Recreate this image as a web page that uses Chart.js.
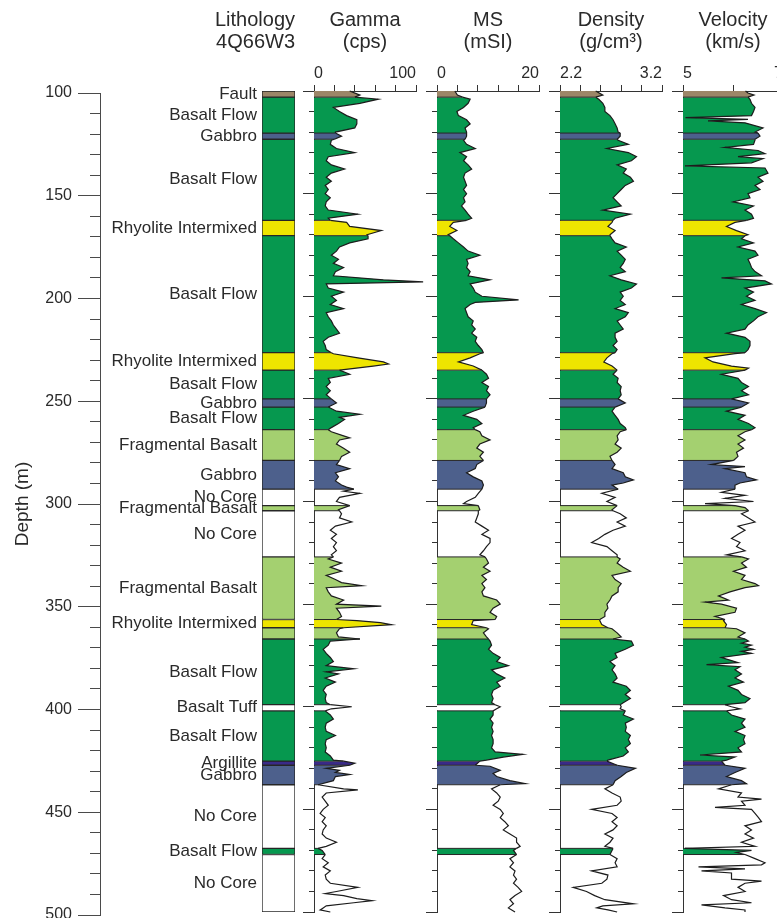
<!DOCTYPE html>
<html>
<head>
<meta charset="utf-8">
<title>4Q66W3 core log</title>
<script src="https://cdn.jsdelivr.net/npm/chart.js"></script>
<style>
  html, body { margin: 0; padding: 0; background: #fff; overflow: hidden; }
  #wrap { position: relative; width: 777px; height: 918px; overflow: hidden; background: #fff; }
  #wrap canvas { position: absolute; top: 0; }
</style>
</head>
<body>
<div id="wrap"></div>
<script>
// ---- lithology units (depth in m) ----
const unitTop  = [100, 103, 120.5, 123.5, 163, 170.5, 227.5, 236, 250, 254, 265, 280, 294, 302, 304.5, 327, 357.5, 361.5, 367, 399, 402, 426.5, 428.5, 438, 469, 472];
const unitBase = [103, 120.5, 123.5, 163, 170.5, 227.5, 236, 250, 254, 265, 280, 294, 302, 304.5, 327, 357.5, 361.5, 367, 399, 402, 426.5, 428.5, 438, 469, 472, 500];
const unitRock = ['Fault', 'Basalt Flow', 'Gabbro', 'Basalt Flow', 'Rhyolite Intermixed', 'Basalt Flow',
  'Rhyolite Intermixed', 'Basalt Flow', 'Gabbro', 'Basalt Flow', 'Fragmental Basalt', 'Gabbro', 'No Core',
  'Fragmental Basalt', 'No Core', 'Fragmental Basalt', 'Rhyolite Intermixed', 'Fragmental Basalt',
  'Basalt Flow', 'Basalt Tuff', 'Basalt Flow', 'Argillite', 'Gabbro', 'No Core', 'Basalt Flow', 'No Core'];
const unitLabel = ['Fault', 'Basalt Flow', 'Gabbro', 'Basalt Flow', 'Rhyolite Intermixed', 'Basalt Flow',
  'Rhyolite Intermixed', 'Basalt Flow', 'Gabbro', 'Basalt Flow', 'Fragmental Basalt', 'Gabbro', 'No Core',
  'Fragmental Basalt', 'No Core', 'Fragmental Basalt', 'Rhyolite Intermixed', '',
  'Basalt Flow', 'Basalt Tuff', 'Basalt Flow', 'Argillite', 'Gabbro', 'No Core', 'Basalt Flow', 'No Core'];

const rockColor = {
  'Fault': '#9c8668',
  'Basalt Flow': '#06984f',
  'Gabbro': '#4d608c',
  'Rhyolite Intermixed': '#eee500',
  'Fragmental Basalt': '#a4d070',
  'Argillite': '#3a2a88',
  'Basalt Tuff': '#ffffff',
  'No Core': '#ffffff'
};

// ---- downhole logs: [depth m, value] ----
const gammaLog = [[100,35],[102,45],[103,40],[104,63],[106,45],[108,19],[110,25],[112,32],[114,42],[116,42],[118,40],[120,21],[120.5,21],[122,27],[123.5,20],[124,17],[126,16],[128,22],[130,40],[132,14],[134,12],[136,17],[138,30],[140,17],[142,12],[144,17],[146,11],[148,14],[150,11],[152,16],[154,12],[156,11],[158,14],[160,43],[162,14],[163,16],[164,32],[166,35],[168,66],[170,52],[170.5,53],[172,53],[174,35],[176,25],[178,22],[180,17],[182,24],[184,19],[186,29],[188,21],[190,19],[192,68],[193,107],[194,12],[196,14],[198,29],[200,17],[202,22],[204,16],[206,29],[208,12],[210,14],[212,17],[214,19],[216,22],[218,25],[220,14],[222,9],[224,11],[226,12],[227.5,17],[228,19],[230,43],[232,68],[233,73],[234,58],[236,25],[238,35],[240,14],[242,16],[244,12],[246,16],[248,12],[250,17],[252,22],[254,14],[256,22],[257.5,45],[259,25],[260,30],[262,24],[264,17],[265,14],[266,17],[268,29],[269,35],[270,25],[272,22],[274,29],[276,35],[278,27],[280,25],[282,22],[284,35],[286,21],[288,24],[290,21],[292,27],[293,32],[294,39],[295,29],[296,45],[298,25],[300,22],[302,35],[304,24],[304.5,25],[306,27],[308,25],[310,37],[312,21],[314,16],[316,22],[318,17],[320,22],[322,19],[324,22],[326,17],[327,19],[328,14],[330,27],[332,16],[334,27],[336,12],[338,21],[339.5,27],[341,47],[342,12],[344,14],[346,17],[348,29],[350,22],[351,66],[352,22],[354,25],[356,27],[357.5,22],[358,42],[359,65],[360,76],[361.5,29],[362,25],[364,22],[366,24],[367,45],[368,16],[370,14],[372,9],[374,12],[376,16],[378,19],[380,12],[381.5,39],[383,12],[384,24],[386,11],[388,21],[390,12],[392,9],[394,12],[396,11],[398,12],[399,16],[400,37],[401,17],[402,11],[404,16],[406,19],[408,12],[410,11],[412,12],[414,21],[416,12],[418,11],[420,12],[422,11],[424,16],[426,19],[426.5,29],[427.5,40],[428.5,35],[430,12],[431,25],[432,21],[433,35],[434,21],[436,19],[438,4],[440,29],[440.5,43],[442,12],[444,8],[446,11],[448,14],[450,9],[452,6],[454,11],[456,8],[458,12],[460,9],[462,8],[464,12],[466,22],[468,12],[469,4],[470,8],[472,11],[474,8],[476,14],[478,9],[480,16],[482,11],[484,12],[486,16],[488,43],[490,22],[491,11],[492,29],[493.5,42],[494.5,57],[495.5,39],[497,12],[498,9],[499,6],[500,16]];

const msLog = [[100,3.5],[102,4],[103,5],[104,6.5],[106,6.1],[108,5.2],[110,3.9],[112,4.2],[114,5.8],[116,6.5],[118,5.5],[120,5.8],[120.5,5.8],[122,5.8],[123.5,5.5],[124,5.2],[126,5.8],[128,7.5],[130,4.5],[132,5.8],[134,5.2],[136,6.1],[138,6.8],[140,5.5],[142,5.2],[144,5.5],[146,5.8],[148,5.2],[150,5.8],[152,5.2],[154,5.5],[156,4.8],[158,5.5],[160,6.1],[162,6.8],[163,5.8],[164,3.2],[166,2.5],[168,3.9],[170,2.2],[170.5,2.5],[172,3.2],[174,4.2],[176,5.2],[178,6.1],[180,8.4],[182,5.8],[184,6.1],[186,5.8],[188,6.5],[190,6.1],[192,10.4],[193,8.4],[194,6.5],[196,7.1],[198,7.5],[200,8.8],[201.8,16],[203,7.5],[204,6.5],[206,5.5],[208,5.8],[210,6.1],[212,7.1],[214,6.8],[216,7.5],[218,6.8],[220,7.8],[222,7.5],[224,8.1],[226,8.8],[227.5,9.1],[228,8.4],[230,6.5],[232,4.2],[234,7.1],[236,8.8],[238,9.7],[240,10.1],[242,8.8],[244,10.1],[246,9.7],[248,10.4],[250,9.7],[252,9.7],[254,9.4],[256,7.1],[258,5.2],[260,7.8],[262,8.8],[264,7.1],[265,7.5],[266,8.4],[268,8.8],[270,10.4],[272,8.4],[274,7.8],[276,9.1],[278,8.4],[280,9.1],[282,7.8],[284,7.5],[286,5.8],[288,7.1],[290,8.8],[292,9.1],[294,8.8],[296,8.1],[298,7.5],[300,5.8],[301,5.2],[302,8.1],[304,8.4],[304.5,8.1],[306,8.1],[308,7.8],[310,7.5],[312,8.8],[314,10.1],[316,8.8],[318,10.4],[320,10.4],[322,9.7],[324,9.1],[326,8.4],[327,9.4],[328,9.7],[330,10.1],[332,9.1],[334,10.4],[336,8.8],[338,9.7],[340,8.8],[342,9.4],[344,8.8],[346,9.1],[348,11.7],[350,12.4],[352,11.0],[354,10.4],[356,11.7],[357.5,11.4],[358,7.1],[360,6.8],[361.5,9.7],[362,10.1],[364,9.1],[366,9.7],[367,10.1],[368,10.4],[370,10.7],[372,10.1],[374,11.0],[376,12.4],[378,11.7],[380,14.0],[382,10.7],[384,11.7],[386,13.3],[388,11.7],[390,12.4],[392,11.0],[394,10.7],[396,11.0],[398,10.7],[399,11.4],[400,12.4],[401,11.7],[402,11.0],[404,11.0],[406,10.4],[408,11.0],[410,10.7],[412,11.0],[414,10.7],[416,11.0],[418,11.0],[420,10.7],[422,11.4],[423.2,16.8],[424.5,13],[426,9.7],[426.5,8.4],[428.5,7.5],[429,10.4],[431,12.4],[432.5,11.0],[434,11.7],[436,14.3],[437.5,17.3],[438,12.4],[440,10.7],[442,11.7],[444,12.4],[446,12.0],[448,11.0],[450,12.4],[452,13.0],[454,12.4],[456,13.3],[458,14.0],[460,13.0],[462,14.3],[464,15.6],[466,15.6],[468,16.3],[469,15.6],[470,15.0],[472,15.6],[474,14.3],[476,15.0],[478,14.3],[480,15.3],[482,15.0],[484,15.6],[486,15.0],[488,15.9],[490,16.6],[492,15.3],[494,14.3],[496,15.0],[498,14.0],[500,15.3]];

const densityLog = [[100,2.55],[102,2.62],[103,2.55],[104,2.58],[106,2.62],[108,2.64],[110,2.64],[112,2.69],[114,2.72],[116,2.74],[118,2.76],[120,2.77],[120.5,2.79],[122,2.79],[123.5,2.76],[124,2.77],[126,2.87],[128,2.66],[130,2.87],[132,2.95],[134,2.9],[136,2.76],[138,2.85],[140,2.82],[142,2.89],[144,2.92],[146,2.84],[148,2.8],[150,2.76],[152,2.72],[154,2.76],[156,2.8],[158,2.62],[160,2.89],[162,2.74],[163,2.72],[164,2.71],[166,2.67],[168,2.74],[170,2.69],[170.5,2.69],[172,2.71],[174,2.74],[176,2.85],[178,2.76],[180,2.8],[182,2.84],[184,2.82],[186,2.79],[188,2.84],[190,2.69],[192,2.8],[194,2.95],[196,2.9],[198,2.79],[200,2.82],[202,2.79],[204,2.84],[206,2.74],[208,2.87],[210,2.84],[212,2.76],[214,2.79],[216,2.82],[218,2.74],[220,2.74],[222,2.76],[224,2.72],[226,2.76],[227.5,2.74],[228,2.71],[230,2.66],[232,2.63],[234,2.71],[236,2.76],[238,2.72],[240,2.77],[242,2.76],[244,2.8],[246,2.79],[248,2.8],[250,2.77],[252,2.84],[254,2.74],[256,2.71],[258,2.74],[260,2.77],[262,2.79],[264,2.84],[265,2.85],[266,2.79],[268,2.76],[270,2.77],[272,2.74],[274,2.8],[276,2.76],[278,2.69],[280,2.71],[282,2.74],[284,2.71],[286,2.82],[288,2.84],[289.5,2.92],[291,2.82],[292,2.71],[294,2.77],[296,2.61],[298,2.74],[300,2.66],[302,2.76],[304,2.71],[304.5,2.72],[306,2.79],[308,2.85],[310,2.76],[312,2.84],[314,2.72],[316,2.64],[318,2.58],[320,2.51],[322,2.66],[324,2.71],[326,2.76],[327,2.76],[328,2.79],[330,2.76],[332,2.82],[334,2.89],[336,2.71],[338,2.74],[340,2.8],[342,2.77],[344,2.77],[346,2.71],[348,2.69],[350,2.66],[352,2.67],[354,2.64],[356,2.64],[357.5,2.59],[358,2.59],[360,2.61],[361.5,2.67],[362,2.71],[364,2.76],[366,2.8],[367,2.72],[368,2.9],[370,2.92],[372,2.84],[374,2.74],[376,2.76],[378,2.69],[380,2.74],[382,2.71],[384,2.74],[386,2.76],[388,2.72],[390,2.85],[392,2.89],[394,2.84],[396,2.89],[398,2.82],[399,2.79],[400,2.8],[401,2.79],[402,2.84],[404,2.82],[406,2.92],[408,2.84],[410,2.85],[412,2.84],[414,2.89],[416,2.87],[418,2.89],[420,2.84],[422,2.87],[424,2.82],[426,2.67],[426.5,2.66],[428.5,2.76],[430,2.94],[432,2.85],[434,2.8],[436,2.74],[438,2.72],[440,2.64],[442,2.71],[444,2.79],[446,2.8],[448,2.76],[450,2.51],[452,2.71],[454,2.76],[456,2.71],[458,2.76],[460,2.72],[462,2.64],[464,2.72],[466,2.69],[468,2.64],[469,2.72],[470,2.71],[472,2.69],[474,2.76],[476,2.74],[478,2.76],[480,2.51],[482,2.67],[484,2.66],[486,2.61],[488,2.33],[490,2.46],[492,2.54],[494,2.64],[496,2.92],[497,2.62],[498,2.56],[499,2.67],[500,2.76]];

const velocityLog = [[100,6.25],[101,6.3],[102,6.42],[103,6.3],[104,6.34],[106,6.37],[108,6.44],[110,6.41],[112,6.37],[113,5.05],[113.8,6.3],[114.6,5.5],[115.5,6.24],[118,6.6],[120,6.44],[120.5,6.5],[122,6.54],[123.5,6.44],[124,6.44],[126,6.41],[127.5,5.84],[129,6.5],[130.5,6.64],[132,6.1],[133,6.6],[135,6.37],[136.5,5.04],[137.5,6.64],[140,6.7],[142,6.5],[144,6.6],[146,6.44],[148,6.54],[150,6.3],[152,6.34],[154,6.0],[156,6.41],[158,6.24],[160,6.37],[162,6.41],[163,6.27],[164,6.04],[166,5.87],[168,6.07],[170,6.3],[170.5,6.24],[172,6.17],[174,6.41],[176,6.1],[178,6.44],[180,6.5],[182,6.3],[184,6.34],[186,6.37],[188,6.44],[190,6.57],[191,5.77],[192.5,6.64],[194,6.77],[196,6.24],[198,6.41],[200,6.27],[202,6.44],[204,6.17],[206,6.44],[208,6.67],[210,6.5],[212,6.41],[214,6.3],[216,6.24],[218,5.87],[220,6.24],[222,6.34],[224,6.34],[226,6.3],[227.5,6.24],[228,6.04],[230,5.44],[232,5.6],[234,5.97],[235,6.31],[236,6.24],[238,5.77],[240,6.1],[242,6.17],[244,6.31],[246,6.17],[248,6.31],[250,5.97],[252,6.31],[254,6.17],[256,5.87],[258,6.24],[260,6.1],[262,6.31],[264,6.44],[265,6.37],[266,6.24],[268,6.1],[270,6.24],[272,6.1],[274,6.21],[276,6.07],[278,6.1],[280,6.01],[282,5.57],[283,6.24],[284,5.84],[286,6.24],[288,6.27],[289.5,6.47],[291,6.14],[292,6.04],[294,6.04],[295.5,5.77],[297,6.24],[298.5,5.84],[300,6.41],[301,5.44],[302,6.04],[303,6.24],[304.5,6.31],[306,6.17],[308,6.31],[310,6.44],[312,6.1],[314,6.24],[316,6.1],[318,5.97],[320,6.14],[322,6.07],[324,6.24],[326,5.87],[327,6.17],[328,6.31],[330,6.17],[332,6.27],[334,6.01],[336,6.24],[338,6.17],[340,6.44],[341,6.51],[342,6.24],[344,5.94],[346,5.71],[348,5.91],[349,5.44],[350,5.77],[352,6.07],[354,6.04],[356,5.64],[357.5,5.84],[358,5.81],[360,5.87],[361.5,5.84],[362,6.07],[364,6.24],[366,6.1],[367,6.24],[368,6.31],[369,6.17],[370,6.37],[371,6.24],[372,6.41],[373,6.17],[374,6.37],[376,5.77],[377.5,5.97],[378.5,6.1],[379.5,5.47],[380.5,6.14],[382,6.04],[384,6.17],[386,6.04],[388,6.21],[390,5.91],[392,6.1],[394,6.17],[396,6.34],[398,6.24],[399,5.84],[400,5.97],[401,6.14],[402,5.87],[404,5.97],[406,6.24],[408,6.17],[410,6.24],[412,6.04],[414,6.24],[416,6.21],[418,6.24],[420,6.1],[422,6.17],[423.5,5.34],[424.5,6.04],[426,5.87],[426.5,5.77],[428.5,5.84],[430,6.24],[432,6.04],[434,5.87],[436,6.17],[437.5,6.27],[438,5.97],[440,5.71],[442,6.17],[444,6.1],[445,6.57],[446,6.17],[448,6.24],[449,5.64],[450,6.37],[452,6.44],[454,6.51],[456,6.57],[458,6.24],[460,6.37],[462,6.24],[464,6.41],[466,6.17],[468,6.44],[469,5.04],[470,6.37],[471,6.07],[472,6.24],[474,6.44],[476,6.64],[477,6.57],[478,5.31],[479,6.24],[480,5.37],[481,5.97],[482,5.97],[484,5.97],[485,6.57],[486,6.24],[488,6.1],[490,6.24],[492,5.81],[494,5.97],[495.5,6.37],[496.5,5.37],[498,5.84],[499,6.24],[500,6.24]];

// ---- track axes ----
const trackTitles = [['Gamma', '(cps)'], ['MS', '(mSI)'], ['Density', '(g/cm³)'], ['Velocity', '(km/s)']];
const trackMin  = [0, 0, 2.2, 5];
const trackMax  = [100, 20, 3.2, 7];
const trackStep = [20, 4, 0.2, 1];
const trackLogs = [gammaLog, msLog, densityLog, velocityLog];

// ---- page layout ----
const DEPTH_MIN = 100, DEPTH_MAX = 500;
const trackLeft  = [314, 437, 560, 683];
const trackRight = [416, 539, 662, 783];
const SIDE = 24;              // canvas margin either side of a log track
const TOP_AXIS = 38;          // top value-axis block height
const BOTTOM_PAD = 6;

const FONT = "'Liberation Sans', Arial, Helvetica, sans-serif";
const INK = '#2a2a2a';
const AXIS = '#333333';
Chart.defaults.font.family = FONT;
Chart.defaults.color = INK;

const wrap = document.getElementById('wrap');
function addCanvas(left, width) {
  const cv = document.createElement('canvas');
  cv.width = width; cv.height = 918;
  cv.style.left = left + 'px';
  cv.style.width = width + 'px'; cv.style.height = '918px';
  wrap.appendChild(cv);
  return cv;
}

function rockAt(d) {
  for (let i = 0; i < unitTop.length; i++) {
    if (d >= unitTop[i] && d < unitBase[i]) return unitRock[i];
  }
  return unitRock[unitRock.length - 1];
}

// keep a vertical axis to a fixed width and stop its end labels from shrinking the plot
function fixVertical(width) {
  return s => { s.width = width; s.paddingTop = 0; s.paddingBottom = 0; };
}

function depthScales(majorLen, minorLen, majorWidth, color, extra) {
  return {
    y: Object.assign({
      type: 'linear', position: 'left', reverse: true, min: DEPTH_MIN, max: DEPTH_MAX, weight: 1,
      afterFit: fixVertical(majorWidth),
      ticks: { stepSize: 50, display: false },
      grid: { drawOnChartArea: false, tickLength: majorLen, color: color, lineWidth: 1 },
      border: { color: color, width: 1 }
    }, extra || {}),
    yMinor: {
      type: 'linear', position: 'left', reverse: true, min: DEPTH_MIN, max: DEPTH_MAX, weight: 0,
      afterFit: fixVertical(0),
      ticks: { stepSize: 10, display: false },
      grid: { drawOnChartArea: false, tickLength: minorLen, color: color, lineWidth: 1 },
      border: { color: color, width: 1 }
    }
  };
}

// ---- depth axis ----
(function () {
  const cv = addCanvas(0, 101);
  const scales = depthScales(22, 10, 100, '#4a4a4a', {
    ticks: { stepSize: 50, padding: 6, font: { size: 16 }, color: INK },
    title: { display: true, text: 'Depth (m)', font: { size: 19 }, color: INK, padding: { top: 11, bottom: 0 } }
  });
  scales.x = { type: 'linear', display: false, min: 0, max: 1 };
  new Chart(cv, {
    type: 'line',
    data: { datasets: [] },
    options: {
      responsive: false, animation: false, events: [],
      layout: { padding: { top: 93, bottom: 3, left: 0, right: 0 } },
      plugins: { legend: { display: false }, tooltip: { enabled: false } },
      scales: scales
    }
  });
})();

// ---- lithology column ----
(function () {
  const cv = addCanvas(100, 197);
  new Chart(cv, {
    type: 'bar',
    data: {
      labels: ['lithology'],
      datasets: unitTop.map((t, i) => ({
        data: [[t, unitBase[i]]],
        backgroundColor: rockColor[unitRock[i]],
        borderColor: '#262626',
        borderWidth: 1,
        borderSkipped: false,
        grouped: false,
        barPercentage: 1,
        categoryPercentage: 1
      }))
    },
    options: {
      responsive: false, animation: false, events: [],
      layout: { padding: { top: 0, bottom: BOTTOM_PAD, left: 0, right: 2 } },
      plugins: {
        legend: { display: false }, tooltip: { enabled: false },
        title: {
          display: true, text: ['Lithology', '4Q66W3'], align: 'end', color: INK,
          font: { size: 20, weight: 'normal', lineHeight: 1.1 },
          padding: { top: 9, bottom: TOP_AXIS }
        }
      },
      scales: {
        x: { display: false },
        y: {
          type: 'linear', reverse: true, min: DEPTH_MIN, max: DEPTH_MAX,
          afterFit: fixVertical(162),
          afterBuildTicks: s => { s.ticks = unitTop.map((t, i) => ({ value: (t + unitBase[i]) / 2 })); },
          ticks: { autoSkip: false, padding: 5, font: { size: 17 }, color: INK, callback: (v, i) => unitLabel[i] },
          grid: { display: false, drawTicks: false },
          border: { display: false }
        }
      }
    }
  });
})();

// ---- log tracks ----
trackLogs.forEach((log, k) => {
  const min = trackMin[k], max = trackMax[k];
  const width = trackRight[k] - trackLeft[k] + 2 * SIDE;
  const cv = addCanvas(trackLeft[k] - SIDE, width);

  const points = log.map(([d, v]) => ({ x: v, y: d }));
  // lithology contacts drawn across the filled area
  const contacts = [];
  unitTop.slice(1).forEach(b => {
    const p = log.find(q => q[0] === b);
    if (p) contacts.push({ x: min, y: b }, { x: p[1], y: b }, { x: null, y: b });
  });

  const near = (a, b) => Math.abs(a - b) < 1e-6;
  const scales = depthScales(11, 5, SIDE, AXIS);
  scales.x = {
    type: 'linear', position: 'top', min: min, max: max,
    afterFit: s => { s.height = TOP_AXIS; },
    ticks: {
      stepSize: trackStep[k], autoSkip: false, maxRotation: 0, padding: 2, align: 'inner',
      font: { size: 16 }, color: INK,
      callback: v => near(v, min) ? String(min) : (near(v, max) ? String(max) : '')
    },
    grid: { drawOnChartArea: false, tickLength: 6, color: AXIS },
    border: { color: AXIS }
  };

  new Chart(cv, {
    type: 'line',
    data: {
      datasets: [
        {
          data: points,
          order: 0,
          clip: false,
          fill: { value: min },
          borderColor: '#1c1c1c',
          borderWidth: 1.2,
          pointRadius: 0,
          tension: 0,
          backgroundColor: 'rgba(0,0,0,0)',
          segment: {
            backgroundColor: c => {
              const d = (log[c.p0DataIndex][0] + log[c.p1DataIndex][0]) / 2;
              const r = rockAt(d);
              return r === 'No Core' ? 'rgba(0,0,0,0)' : rockColor[r];
            }
          }
        },
        {
          data: contacts,
          order: -1,
          fill: false,
          borderColor: '#262626',
          borderWidth: 1,
          pointRadius: 0,
          spanGaps: false
        }
      ]
    },
    options: {
      indexAxis: 'y',
      responsive: false, animation: false, events: [],
      layout: { padding: { top: 0, bottom: BOTTOM_PAD, left: 0, right: SIDE } },
      plugins: {
        legend: { display: false }, tooltip: { enabled: false },
        title: {
          display: true, text: trackTitles[k], fullSize: false, color: INK,
          font: { size: 20, weight: 'normal', lineHeight: 1.1 },
          padding: { top: 9, bottom: 0 }
        }
      },
      scales: scales
    }
  });
});
</script>
</body>
</html>
